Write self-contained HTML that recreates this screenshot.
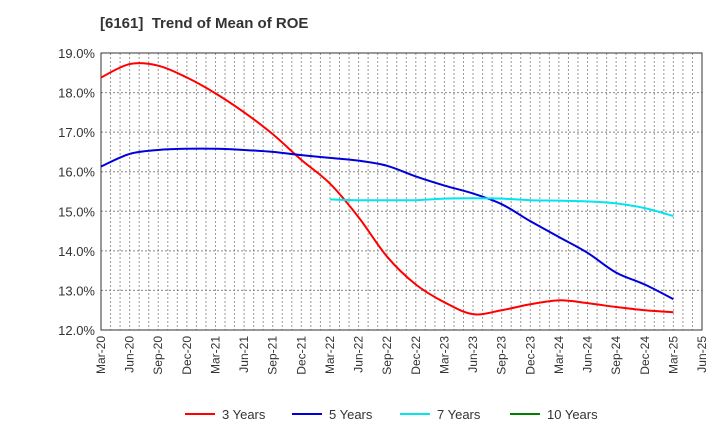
<!DOCTYPE html>
<html><head><meta charset="utf-8"><style>
body{margin:0;background:#fff;font-family:"Liberation Sans",sans-serif;}
svg text{font-family:"Liberation Sans",sans-serif;fill:#333;}
</style></head><body>
<svg id="chart" width="720" height="440" xmlns="http://www.w3.org/2000/svg">
<text x="100" y="28" font-size="15" font-weight="bold" fill="#333">[6161]&#160; Trend of Mean of ROE</text>
<g id="grid"></g><g id="axes"></g><g id="series"></g><g id="legend"></g>
</svg>
<script>
const xLabels=["Mar-20","Jun-20","Sep-20","Dec-20","Mar-21","Jun-21","Sep-21","Dec-21","Mar-22","Jun-22","Sep-22","Dec-22","Mar-23","Jun-23","Sep-23","Dec-23","Mar-24","Jun-24","Sep-24","Dec-24","Mar-25","Jun-25"];
const yTicks=[12,13,14,15,16,17,18,19];
const years3=[18.38,18.72,18.68,18.38,17.98,17.5,16.95,16.3,15.7,14.85,13.85,13.15,12.7,12.4,12.5,12.65,12.75,12.68,12.58,12.5,12.45];
const years5=[16.13,16.45,16.55,16.58,16.58,16.55,16.5,16.42,16.35,16.28,16.15,15.88,15.65,15.45,15.18,14.75,14.35,13.95,13.45,13.15,12.78];
const years7=[null,null,null,null,null,null,null,null,15.3,15.28,15.28,15.28,15.32,15.33,15.32,15.28,15.27,15.25,15.2,15.08,14.88];
const years10=[];
const seriesNames=["3 Years","5 Years","7 Years","10 Years"];
const seriesColors=["#ff0000","#0000dd","#00e5ee","#008000"];
const L=101,R=702,T=53,B=330,yMin=12,yMax=19;
const xS=i=>L+i*(R-L)/(xLabels.length-1);
const yS=v=>B-(v-yMin)*(B-T)/(yMax-yMin);
const NS="http://www.w3.org/2000/svg";
function mk(tag,attrs,parent){const e=document.createElementNS(NS,tag);for(const k in attrs)e.setAttribute(k,attrs[k]);parent.appendChild(e);return e;}
const grid=document.getElementById('grid'),axes=document.getElementById('axes'),ser=document.getElementById('series'),leg=document.getElementById('legend');
for(let m=1;m<(xLabels.length-1)*3;m++){
 const x=L+m*(R-L)/((xLabels.length-1)*3);
 const g=mk('line',{x1:x,x2:x,y1:T,y2:B,stroke:'#999','stroke-dasharray':'2,2','stroke-width':1},grid);
 
 
}
yTicks.forEach(v=>{
 const y=yS(v);
 if(v>yMin&&v<yMax){const g=mk('line',{x1:L,x2:R,y1:y,y2:y,stroke:'#888','stroke-dasharray':'2,2'},grid);
 
 }
 const t=mk('text',{x:L-6,y:y+5,'font-size':13,'text-anchor':'end'},axes);t.textContent=v.toFixed(1)+'%';
 
 
});
const fr=mk('rect',{x:L,y:T,width:R-L,height:B-T,fill:'none',stroke:'#333','stroke-width':1},axes);


xLabels.forEach((lb,i)=>{
 const x=xS(i);
 const t=mk('text',{x:0,y:0,'font-size':12,'text-anchor':'end',transform:`translate(${x+4},${B+6}) rotate(-90)`},axes);t.textContent=lb;
 
 
});
function path(vals){
 const pts=[];vals.forEach((v,i)=>{if(v!=null)pts.push([xS(i),yS(v)]);});
 if(pts.length<2)return '';
 let d=`M${pts[0][0]},${pts[0][1]}`;
 for(let i=0;i<pts.length-1;i++){
  const p0=pts[Math.max(0,i-1)],p1=pts[i],p2=pts[i+1],p3=pts[Math.min(pts.length-1,i+2)];
  const c1=[p1[0]+(p2[0]-p0[0])/6,p1[1]+(p2[1]-p0[1])/6],c2=[p2[0]-(p3[0]-p1[0])/6,p2[1]-(p3[1]-p1[1])/6];
  d+=` C${c1[0]},${c1[1]} ${c2[0]},${c2[1]} ${p2[0]},${p2[1]}`;
 }
 return d;
}
[years3,years5,years7,years10].forEach((vals,k)=>{
 const d=path(vals);if(!d)return;
 const p=mk('path',{d:d,fill:'none',stroke:seriesColors[k],'stroke-width':2},ser);
 
 
});
const lx=[185,292,400,510];
seriesNames.forEach((n,k)=>{
 const g=mk('g',{},leg);
 
 
 mk('line',{x1:lx[k],x2:lx[k]+30,y1:414,y2:414,stroke:seriesColors[k],'stroke-width':2},g);
 const t=mk('text',{x:lx[k]+37,y:419,'font-size':13},g);t.textContent=n;
});
</script>
</body></html>
